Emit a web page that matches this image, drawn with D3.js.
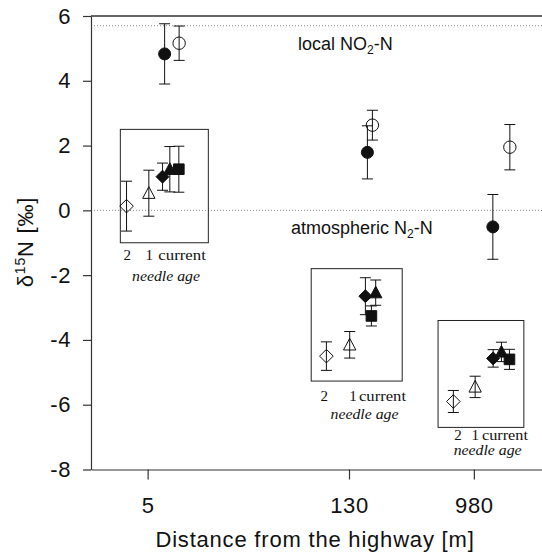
<!DOCTYPE html>
<html>
<head>
<meta charset="utf-8">
<script src="https://cdn.jsdelivr.net/npm/d3@7"></script>
<style>
  body { margin: 0; background: #fff; }
  svg { display: block; }
  .sans { font-family: "Liberation Sans", Arial, Helvetica, sans-serif; fill: #111; }
  .serif { font-family: "Liberation Serif", "Times New Roman", serif; fill: #111; }
</style>
</head>
<body>
<div id="chart"></div>
<script>
// distances from the highway (m)
const sites = [5, 130, 980];
const yTicks = [-8, -6, -4, -2, 0, 2, 4, 6];

// large circles, mean and error
const filledMean = [4.83, 1.79, -0.51];
const filledErr = [0.93, 0.82, 1.0];
const openMean = [5.16, 2.63, 1.95];
const openErr = [0.53, 0.46, 0.7];

// needle age insets
const age2Mean = [0.13, -4.5, -5.9];
const age2Err = [0.77, 0.44, 0.34];
const age1Mean = [0.53, -4.15, -5.45];
const age1Err = [0.71, 0.41, 0.33];
const curDiamondMean = [1.04, -2.65, -4.57];
const curDiamondErr = [0.42, 0.57, 0.27];
const curTriangleMean = [1.27, -2.54, -4.37];
const curTriangleErr = [0.7, 0.39, 0.3];
const curSquareMean = [1.27, -3.26, -4.6];
const curSquareErr = [0.71, 0.31, 0.31];

// reference lines
const refValues = [5.7, 0];
const refGas = ["NO", "N"];

const width = 542,
  height = 553;

const x = d3.scaleLog().domain([2, 3000]).range([91, 543]);
const y = d3.scaleLinear().domain([-8, 6]).range([469.5, 16]);

// pixel layout next to each distance tick
const dotDx = { filled: [17, 18.4, 19], open: [31.5, 23.4, 36] };
const insets = [
  { box: [-27.3, 60.7], top: 2.5, bottom: -1.0, age: [-21.1, 1.2, 23.2], cur: [-8.3, -1, 8],
    lab: [-20.3, 1.7, 10.7, 18.4], curW: 47.5, row: [17.3, 38.3] },
  { box: [-37.8, 53.2], top: -1.8, bottom: -5.27, age: [-22.6, 0.7, 21.7], cur: [-5.3, 5, 0.7],
    lab: [-24.7, 4, 10, 15.5], curW: 47, row: [19.5, 37.5] },
  { box: [-35.8, 50], top: -3.4, bottom: -6.7, age: [-20.5, 1.3, 27.6], cur: [-8.3, 0, 8],
    lab: [-15.9, 1.3, 8.1, 13.8], curW: 46, row: [12.5, 28] }
];
const refLabelX = [298, 291];

const svg = d3
  .select("#chart")
  .append("svg")
  .attr("width", width)
  .attr("height", height);

// reference lines
svg
  .selectAll(".ref")
  .data(refValues)
  .enter()
  .append("line")
  .attr("x1", x.range()[0])
  .attr("x2", width)
  .attr("y1", (d) => y(d))
  .attr("y2", (d) => y(d))
  .attr("stroke", "#888")
  .attr("stroke-width", 1)
  .attr("stroke-dasharray", "1,2");

const refLabels = svg
  .selectAll(".ref-label")
  .data(refValues)
  .enter()
  .append("text")
  .attr("class", "sans")
  .attr("x", (d, i) => refLabelX[i])
  .attr("y", (d) => y(d) + 24)
  .style("font-size", "18px");
refLabels.append("tspan").text((d, i) => (i === 0 ? "local " : "atmospheric ") + refGas[i]);
refLabels
  .append("tspan")
  .attr("dy", 4)
  .style("font-size", "12px")
  .text("2");
refLabels.append("tspan").attr("dy", -4).text("-N");

// axes
const yAxis = svg
  .append("g")
  .attr("transform", `translate(${x.range()[0]},0)`)
  .call(
    d3.axisLeft(y).tickValues(yTicks).tickSizeInner(8).tickSizeOuter(0).tickPadding(12).tickFormat(String)
  );
const xAxis = svg
  .append("g")
  .attr("transform", `translate(0,${y.range()[0]})`)
  .call(
    d3.axisBottom(x).tickValues(sites).tickSizeInner(10).tickSizeOuter(0).tickPadding(18).tickFormat(String)
  );
[yAxis, xAxis].forEach((g) => {
  g.selectAll("path, line").attr("stroke", "#333").attr("stroke-width", 1.2);
  g.selectAll("text")
    .attr("class", "sans")
    .attr("fill", "#111")
    .style("font-size", "22px")
    .style("letter-spacing", "0.6px");
});

svg
  .append("line")
  .attr("x1", x.range()[0])
  .attr("x2", width)
  .attr("y1", y.range()[1])
  .attr("y2", y.range()[1])
  .attr("stroke", "#333")
  .attr("stroke-width", 1.4);

svg
  .append("text")
  .attr("class", "sans")
  .attr("x", 315)
  .attr("y", 547)
  .attr("text-anchor", "middle")
  .style("font-size", "22px")
  .style("letter-spacing", "0.8px")
  .text("Distance from the highway [m]");

const yTitle = svg
  .append("text")
  .attr("class", "sans")
  .attr("transform", "translate(33,242) rotate(-90)")
  .attr("text-anchor", "middle")
  .style("font-size", "22px")
  .style("letter-spacing", "0.8px");
yTitle.append("tspan").text("δ");
yTitle.append("tspan").attr("dy", -8).style("font-size", "14px").text("15");
yTitle.append("tspan").attr("dy", 8).text("N [‰]");

// marker shapes
const shapes = {
  circle: (s) => `M${s},0A${s},${s},0,1,1,${-s},0A${s},${s},0,1,1,${s},0Z`,
  diamond: (s) => `M0,${-s}L${s},0L0,${s}L${-s},0Z`,
  triangle: (s) => `M0,${-s}L${s * 0.95},${s * 0.8}L${-s * 0.95},${s * 0.8}Z`,
  square: (s) => `M${-s},${-s}H${s}V${s}H${-s}Z`
};

function errorBar(g, cx, mean, err) {
  const cap = 5.5;
  const p = d3.path();
  p.moveTo(cx, y(mean + err));
  p.lineTo(cx, y(mean - err));
  p.moveTo(cx - cap, y(mean + err));
  p.lineTo(cx + cap, y(mean + err));
  p.moveTo(cx - cap, y(mean - err));
  p.lineTo(cx + cap, y(mean - err));
  g.append("path").attr("d", p.toString()).attr("stroke", "#111").attr("stroke-width", 1).attr("fill", "none");
}

function marker(g, cx, mean, shape, size, filled) {
  g.append("path")
    .attr("transform", `translate(${cx},${y(mean)})`)
    .attr("d", shapes[shape](size))
    .attr("fill", filled ? "#111" : "none")
    .attr("stroke", "#111")
    .attr("stroke-width", 1);
}

const marks = svg.append("g");

sites.forEach((site, i) => {
  const sx = x(site);
  const L = insets[i];

  // inset frame
  marks
    .append("rect")
    .attr("x", sx + L.box[0])
    .attr("y", y(L.top))
    .attr("width", L.box[1] - L.box[0])
    .attr("height", y(L.bottom) - y(L.top))
    .attr("fill", "none")
    .attr("stroke", "#222")
    .attr("stroke-width", 1);

  const series = [
    { cx: sx + L.age[0], m: age2Mean[i], e: age2Err[i], shape: "diamond", size: 6.8, filled: false },
    { cx: sx + L.age[1], m: age1Mean[i], e: age1Err[i], shape: "triangle", size: 6.5, filled: false },
    { cx: sx + L.age[2] + L.cur[0], m: curDiamondMean[i], e: curDiamondErr[i], shape: "diamond", size: 6.5, filled: true },
    { cx: sx + L.age[2] + L.cur[1], m: curTriangleMean[i], e: curTriangleErr[i], shape: "triangle", size: 6.5, filled: true },
    { cx: sx + L.age[2] + L.cur[2], m: curSquareMean[i], e: curSquareErr[i], shape: "square", size: 5.3, filled: true },
    { cx: sx + dotDx.filled[i], m: filledMean[i], e: filledErr[i], shape: "circle", size: 6, filled: true },
    { cx: sx + dotDx.open[i], m: openMean[i], e: openErr[i], shape: "circle", size: 6.2, filled: false }
  ];
  series.forEach((s) => errorBar(marks, s.cx, s.m, s.e));
  series.forEach((s) => marker(marks, s.cx, s.m, s.shape, s.size, s.filled));

  // needle age labels
  const row1 = y(L.bottom) + L.row[0];
  const row2 = y(L.bottom) + L.row[1];
  const lab = marks.append("g").attr("class", "serif").style("font-size", "15px");
  lab.append("text").attr("x", sx + L.lab[0]).attr("y", row1).attr("text-anchor", "middle").text("2");
  lab.append("text").attr("x", sx + L.lab[1]).attr("y", row1).attr("text-anchor", "middle").text("1");
  lab
    .append("text")
    .attr("x", sx + L.lab[2])
    .attr("y", row1)
    .attr("textLength", L.curW)
    .attr("lengthAdjust", "spacingAndGlyphs")
    .text("current");
  lab
    .append("text")
    .attr("x", sx + L.lab[3] - 34)
    .attr("y", row2)
    .attr("textLength", 68)
    .attr("lengthAdjust", "spacingAndGlyphs")
    .style("font-style", "italic")
    .text("needle age");
});
</script>
</body>
</html>
